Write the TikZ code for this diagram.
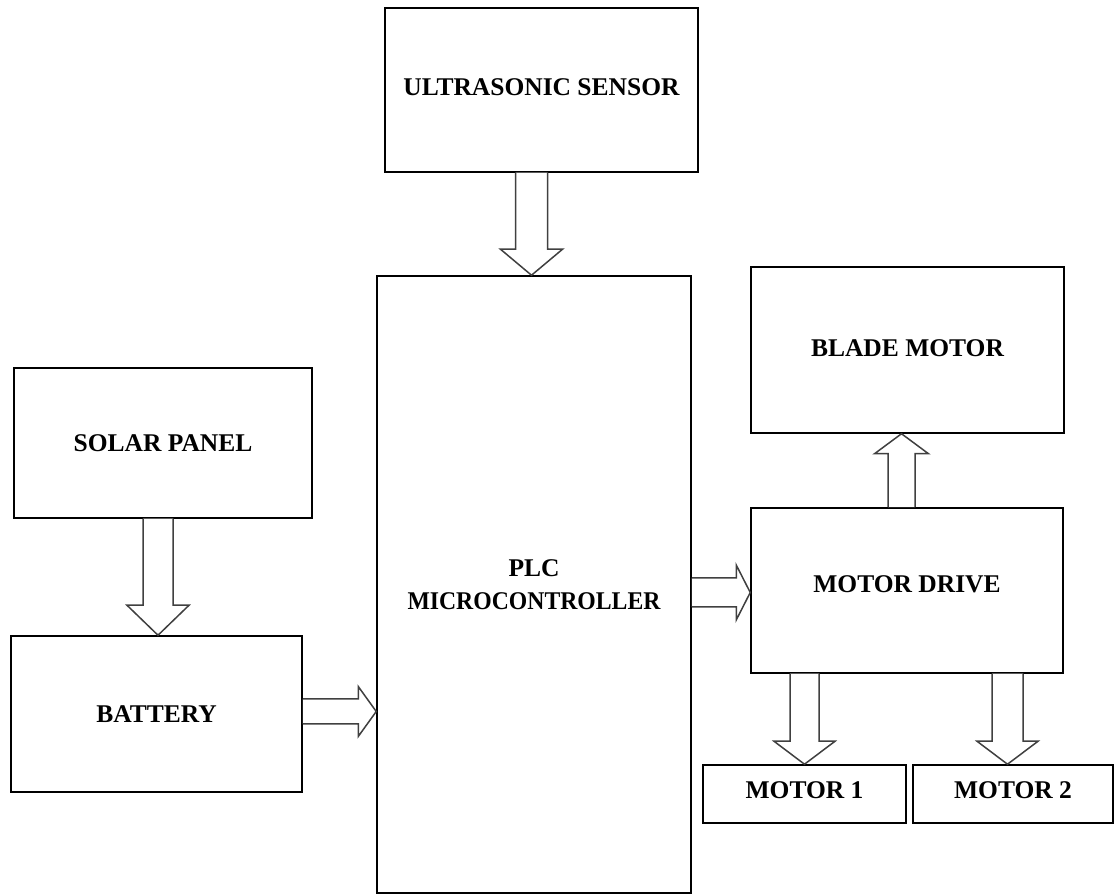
\documentclass[tikz,border=0pt]{standalone}
\usepackage{fontspec}
\setmainfont{Liberation Serif}
\usetikzlibrary{calc}
\newcommand{\arrdown}[5]{%
  \draw[blockarrow] ($(#1)+(-#3,0)$) -- ($(#2)+(-#3,#5)$) -- ($(#2)+(-#4,#5)$) -- (#2) -- ($(#2)+(#4,#5)$) -- ($(#2)+(#3,#5)$) -- ($(#1)+(#3,0)$);}
\newcommand{\arrup}[5]{%
  \draw[blockarrow] ($(#1)+(-#3,0)$) -- ($(#2)+(-#3,-#5)$) -- ($(#2)+(-#4,-#5)$) -- (#2) -- ($(#2)+(#4,-#5)$) -- ($(#2)+(#3,-#5)$) -- ($(#1)+(#3,0)$);}
\newcommand{\arrright}[5]{%
  \draw[blockarrow] ($(#1)+(0,#3)$) -- ($(#2)+(-#5,#3)$) -- ($(#2)+(-#5,#4)$) -- (#2) -- ($(#2)+(-#5,-#4)$) -- ($(#2)+(-#5,-#3)$) -- ($(#1)+(0,-#3)$);}
\begin{document}
\begin{tikzpicture}[x=1pt,y=1pt,
  box/.style={draw=black, line width=1.5pt, fill=white, inner sep=0pt, align=center,
    font=\fontsize{25.5}{33}\selectfont\bfseries},
  blockarrow/.style={draw=black!75, line width=1.5pt, fill=white, line join=miter}]
\useasboundingbox (0,0) rectangle (1114,896);
\node[box, minimum width=313, minimum height=164] (us) at (541.5,806) {\raisebox{5pt}{ULTRASONIC SENSOR}};
\node[box, minimum width=314, minimum height=617] (plc) at (534,311.5) {PLC\\\scalebox{0.93}[1]{MICROCONTROLLER}};
\node[box, minimum width=313, minimum height=166] (blade) at (907.5,546) {\raisebox{3pt}{BLADE MOTOR}};
\node[box, minimum width=298, minimum height=150] (solar) at (163,453) {\raisebox{-5pt}{SOLAR PANEL}};
\node[box, minimum width=291, minimum height=156] (bat) at (156.5,182) {\raisebox{-2pt}{BATTERY}};
\node[box, minimum width=312, minimum height=165] (drive) at (907,305.5) {\raisebox{12pt}{MOTOR DRIVE}};
\node[box, minimum width=203, minimum height=58] (m1) at (804.5,102) {\raisebox{8pt}{MOTOR 1}};
\node[box, minimum width=200, minimum height=58] (m2) at (1013,102) {\raisebox{8pt}{MOTOR 2}};
% arrow end points
\coordinate (a1s) at ($(us.south)+(-10,0)$);
\coordinate (a1t) at (a1s |- plc.north);
\coordinate (a2s) at ($(solar.south)+(-5,0)$);
\coordinate (a2t) at (a2s |- bat.north);
\coordinate (a3s) at ($(bat.east)+(0,2.5)$);
\coordinate (a3t) at (a3s -| plc.west);
\coordinate (a4s) at ($(plc.east)+(0,-8)$);
\coordinate (a4t) at (a4s -| drive.west);
\coordinate (a5s) at ($(drive.north)+(-5.5,0)$);
\coordinate (a5t) at (a5s |- blade.south);
\coordinate (a6s) at (drive.south -| m1.north);
\coordinate (a6t) at (m1.north);
\coordinate (a7s) at ($(drive.south -| m2.north)+(-5.5,0)$);
\coordinate (a7t) at (a7s |- m2.north);
\arrdown{a1s}{a1t}{16}{31}{26}
\arrdown{a2s}{a2t}{15}{31}{30}
\arrright{a3s}{a3t}{12.5}{25}{18}
\arrright{a4s}{a4t}{14.5}{27.5}{14}
\arrup{a5s}{a5t}{13.5}{27}{20}
\arrdown{a6s}{a6t}{14.5}{30.5}{23}
\arrdown{a7s}{a7t}{15.5}{30.5}{23}
\end{tikzpicture}
\end{document}
